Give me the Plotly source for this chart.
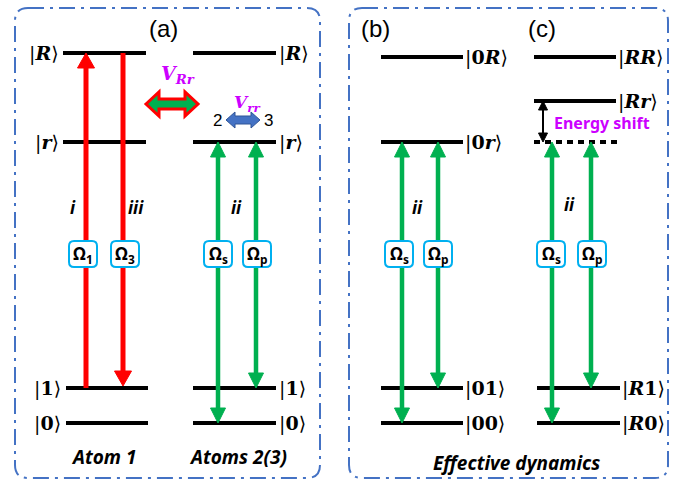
import plotly.graph_objects as go

# ---------------- data ----------------
# energy levels: label, y
levels_a1 = [("|<b><i>R</i></b>⟩", 53), ("|<b><i>r</i></b>⟩", 142), ("|<b>1</b>⟩", 388), ("|<b>0</b>⟩", 423)]
levels_a2 = [("|<b><i>R</i></b>⟩", 53), ("|<b><i>r</i></b>⟩", 142), ("|<b>1</b>⟩", 388), ("|<b>0</b>⟩", 423)]
levels_b = [("|<b>0<i>R</i></b>⟩", 57), ("|<b>0<i>r</i></b>⟩", 142), ("|<b>01</b>⟩", 388), ("|<b>00</b>⟩", 423)]
levels_c = [("|<b><i>RR</i></b>⟩", 57), ("|<b><i>Rr</i></b>⟩", 101), ("|<b><i>R</i>1</b>⟩", 388), ("|<b><i>R</i>0</b>⟩", 423)]
dotted_level_c = 142

# transitions: x, y_from, y_to, heads, color, Rabi label, label-box x
red = "#ff0000"
green = "#00b050"
transitions = [
    (86, 388, 53, "top", red, "Ω<sub>1</sub>", 83),
    (123, 53, 386, "bottom", red, "Ω<sub>3</sub>", 125),
    (218, 423, 142, "both", green, "Ω<sub>s</sub>", 218),
    (256, 388, 142, "both", green, "Ω<sub>p</sub>", 257),
    (402, 423, 142, "both", green, "Ω<sub>s</sub>", 399),
    (438, 388, 142, "both", green, "Ω<sub>p</sub>", 438),
    (552, 423, 142, "both", green, "Ω<sub>s</sub>", 551),
    (591, 388, 142, "both", green, "Ω<sub>p</sub>", 592),
]
roman_labels = [("i", 73, 207), ("iii", 136, 207), ("ii", 236, 207), ("ii", 417, 207), ("ii", 569, 204)]

fig = go.Figure()
shapes = []
annots = []


def rrect(x0, y0, x1, y1, r):
    return (f"M{x0+r},{y0} L{x1-r},{y0} Q{x1},{y0} {x1},{y0+r} L{x1},{y1-r} Q{x1},{y1} {x1-r},{y1} "
            f"L{x0+r},{y1} Q{x0},{y1} {x0},{y1-r} L{x0},{y0+r} Q{x0},{y0} {x0+r},{y0} Z")


def tri(xc, ytip, direction, w, l, color):
    yb = ytip + l if direction == "up" else ytip - l
    shapes.append(dict(type="path", xref="x", yref="y",
                       path=f"M{xc},{ytip} L{xc-w/2},{yb} L{xc+w/2},{yb} Z",
                       fillcolor=color, line=dict(color=color, width=1)))


def arrow(x, ya, yb, heads, color, width=5, hw=16, hl=15):
    top, bot = min(ya, yb), max(ya, yb)
    y0 = top + (hl - 2 if heads in ("top", "both") else 0)
    y1 = bot - (hl - 2 if heads in ("bottom", "both") else 0)
    shapes.append(dict(type="line", xref="x", yref="y", x0=x, x1=x, y0=y0, y1=y1,
                       line=dict(color=color, width=width)))
    if heads in ("top", "both"):
        tri(x, top, "up", hw, hl, color)
    if heads in ("bottom", "both"):
        tri(x, bot, "down", hw, hl, color)


# panel frames
for (x0, x1) in [(15, 320), (349, 668)]:
    shapes.append(dict(type="path", xref="x", yref="y", path=rrect(x0, 8, x1, 478, 13),
                       line=dict(color="#4472c4", width=2, dash="16px,6px,3px,6px")))

ket_font = dict(family="DejaVu Serif", size=19, color="black")


def draw_levels(levels, x0, x1, side, lx):
    for lab, y in levels:
        shapes.append(dict(type="line", xref="x", yref="y", x0=x0, x1=x1, y0=y, y1=y,
                           line=dict(color="black", width=4)))
        annots.append(dict(x=lx, y=y, text=lab, showarrow=False, xanchor=side, yanchor="middle",
                           font=ket_font))


draw_levels(levels_a1[:2], 63, 146, "right", 61)
draw_levels(levels_a1[2:], 66, 148, "right", 63)
draw_levels(levels_a2, 193, 276, "left", 277)
draw_levels(levels_b, 381, 463, "left", 463)
draw_levels(levels_c[:2], 534, 616, "left", 616)
draw_levels(levels_c[2:], 537, 620, "left", 620)
shapes.append(dict(type="line", xref="x", yref="y", x0=534, x1=617, y0=dotted_level_c, y1=dotted_level_c,
                   line=dict(color="black", width=4, dash="6px,5px")))

# transitions and Rabi boxes
for x, ya, yb, heads, col, lab, bx in transitions:
    arrow(x, ya, yb, heads, col, width=5 if col == red else 4.5, hw=17 if col == red else 15)
for x, ya, yb, heads, col, lab, bx in transitions:
    shapes.append(dict(type="path", xref="x", yref="y", path=rrect(bx - 14, 241, bx + 14, 267, 5),
                       fillcolor="white", line=dict(color="#00b0f0", width=2)))
    annots.append(dict(x=bx, y=254, text=f"<b>{lab}</b>", showarrow=False, xanchor="center",
                       yanchor="middle", font=dict(family="Noto Sans", size=17, color="black")))

for t, x, y in roman_labels:
    annots.append(dict(x=x, y=y, text=f"<b><i>{t}</i></b>", showarrow=False,
                       font=dict(family="Noto Sans", size=17, color="black")))


# interaction arrows
def dbl_arrow(xc, yc, half, hl, hh, sh, fill, edge, ew):
    p = (f"M{xc-half},{yc} L{xc-half+hl},{yc-hh} L{xc-half+hl},{yc-sh} L{xc+half-hl},{yc-sh} "
         f"L{xc+half-hl},{yc-hh} L{xc+half},{yc} L{xc+half-hl},{yc+hh} L{xc+half-hl},{yc+sh} "
         f"L{xc-half+hl},{yc+sh} L{xc-half+hl},{yc+hh} Z")
    shapes.append(dict(type="path", xref="x", yref="y", path=p, fillcolor=fill,
                       line=dict(color=edge, width=ew)))


dbl_arrow(172, 104, 26, 13, 12, 5, green, red, 3)
dbl_arrow(243, 120, 17, 9, 8, 4, "#4472c4", "#2f5597", 1)
magenta = "#cc00ff"
annots += [
    dict(x=178, y=74, text="<b><i>V<sub>Rr</sub></i></b>", showarrow=False,
         font=dict(family="DejaVu Serif", size=19, color=magenta)),
    dict(x=247, y=103, text="<b><i>V<sub>rr</sub></i></b>", showarrow=False,
         font=dict(family="DejaVu Serif", size=17, color=magenta)),
    dict(x=217, y=120, text="2", showarrow=False, font=dict(family="Liberation Sans", size=17, color="black")),
    dict(x=268, y=120, text="3", showarrow=False, font=dict(family="Liberation Sans", size=17, color="black")),
]

# energy shift
arrow(543, 101, 142, "both", "black", width=2, hw=9, hl=9)
annots.append(dict(x=602, y=123, text="<b>Energy shift</b>", showarrow=False,
                   font=dict(family="Noto Sans", size=16, color=magenta)))

# panel titles and captions
for t, x in [("(a)", 163), ("(b)", 375), ("(c)", 542)]:
    annots.append(dict(x=x, y=28, text=t, showarrow=False,
                       font=dict(family="Liberation Sans", size=24, color="black")))
for t, x, y in [("Atom 1", 103, 457), ("Atoms 2(3)", 238, 457), ("Effective dynamics", 516, 463)]:
    annots.append(dict(x=x, y=y, text=f"<b><i>{t}</i></b>", showarrow=False,
                       font=dict(family="Noto Sans", size=19, color="black")))

fig.add_trace(go.Scatter(x=[0, 680], y=[0, 485], mode="markers", marker=dict(opacity=0),
                         hoverinfo="skip", showlegend=False))
fig.update_layout(width=680, height=485, margin=dict(l=0, r=0, t=0, b=0),
                  paper_bgcolor="white", plot_bgcolor="white", shapes=shapes, annotations=annots,
                  xaxis=dict(range=[0, 680], visible=False, fixedrange=True),
                  yaxis=dict(range=[485, 0], visible=False, fixedrange=True),
                  showlegend=False)
fig.write_html("out.html", config={"displayModeBar": False},
               post_script="document.body.style.margin='0';document.body.style.overflow='hidden';")
